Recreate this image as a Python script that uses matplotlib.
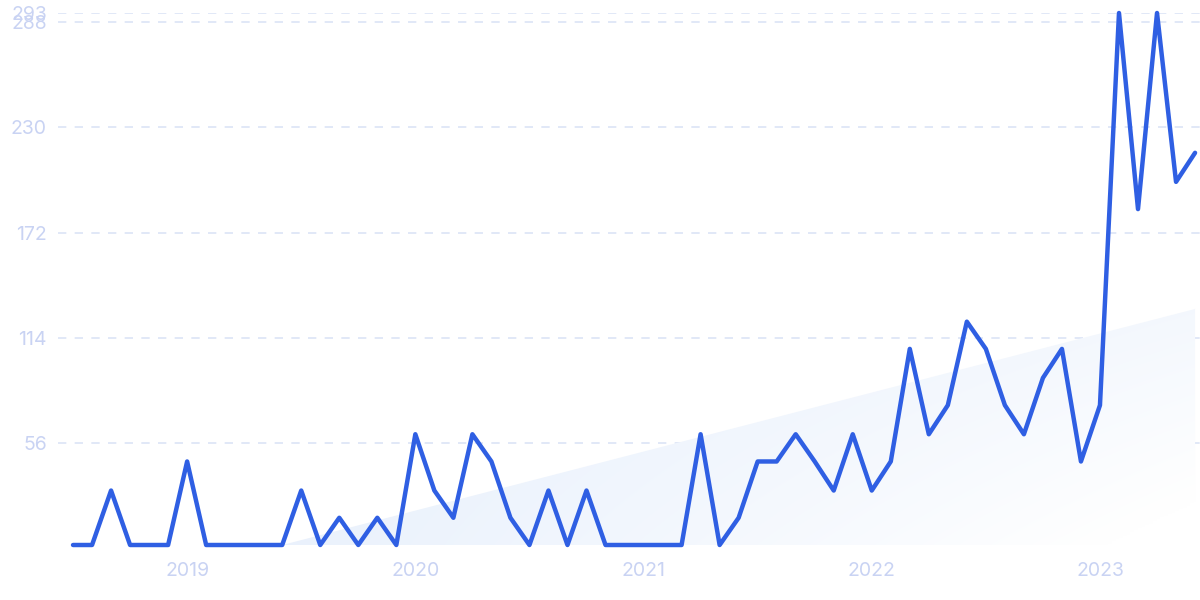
import matplotlib.pyplot as plt
import numpy as np
from matplotlib.patches import Polygon


# monthly values, Jul 2018 .. Jun 2023
months = list(range(60))
values = [0, 0, 30, 0, 0, 0, 46, 0, 0, 0, 0, 0,
          30, 0, 15, 0, 15, 0, 61, 30, 15, 61, 46, 15,
          0, 30, 0, 30, 0, 0, 0, 0, 0, 61, 0, 15,
          46, 46, 61, 46, 30, 61, 30, 46, 108, 61, 77, 123,
          108, 77, 61, 92, 108, 46, 77, 293, 185, 293, 200, 216]

# shaded trend area (month index, value)
trend_months = [0, 11, 59]
trend_values = [0, 0, 130]

year_ticks = [6, 18, 30, 42, 54]
year_labels = ["2019", "2020", "2021", "2022", "2023"]
y_ticks = [56, 114, 172, 230, 288, 293]

LINE = "#2f5fe3"
LABEL = "#c9d3f3"
GRID = "#dce4f6"

plt.rcParams["font.family"] = ["Inter", "DejaVu Sans"]

fig = plt.figure(figsize=(12, 6), dpi=100)
ax = fig.add_axes([58 / 1200, 1 - 545 / 600, 1 - 58 / 1200, (545 - 13) / 600])

ax.set_xlim(-0.79, 59.26)
ax.set_ylim(0, 293)

# gradient fill under the trend
verts = list(zip(trend_months, trend_values)) + [(trend_months[-1], 0)]
poly = Polygon(verts, closed=True, facecolor="none", edgecolor="none")
ax.add_patch(poly)
gx, gy = np.meshgrid(np.linspace(0, 1, 300), np.linspace(1, 0, 150))
t = np.clip(gx ** 1.3 * 0.55 + (1 - gy) * gx * 0.55, 0, 1)
top = np.array([230, 239, 252]) / 255
img = np.ones((150, 300, 3))
for c in range(3):
    img[..., c] = top[c] + (1 - top[c]) * t
im = ax.imshow(img, extent=[0, 59, 0, 130], origin="upper", aspect="auto",
               zorder=1, interpolation="bilinear")
im.set_clip_path(poly)

for y in y_ticks:
    ax.axhline(y, color=GRID, lw=1.2, ls=(0, (5, 5)), zorder=0)

ax.plot(months, values, color=LINE, lw=3.2, solid_joinstyle="round",
        solid_capstyle="round", zorder=3, clip_on=False)

ax.set_yticks(y_ticks)
ax.set_yticklabels([str(v) for v in y_ticks])
ax.set_xticks(year_ticks)
ax.set_xticklabels(year_labels)
ax.tick_params(length=0, labelsize=14, labelcolor=LABEL)
ax.tick_params(axis="y", pad=8)
ax.tick_params(axis="x", pad=12)

for s in ax.spines.values():
    s.set_visible(False)

fig.savefig("out.png", dpi=100)
